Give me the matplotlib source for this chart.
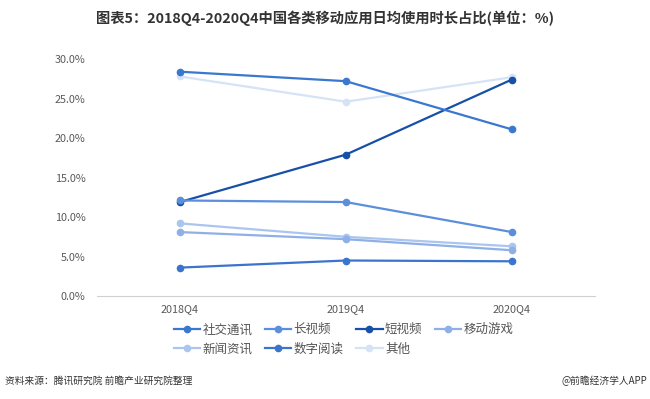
import matplotlib
matplotlib.use("Agg")
import matplotlib.pyplot as plt
from matplotlib.ticker import FuncFormatter

plt.rcParams['font.family'] = ['Noto Sans CJK SC', 'DejaVu Sans']

quarters = ["2018Q4", "2019Q4", "2020Q4"]
social = [28.4, 27.2, 21.1]
long_video = [12.1, 11.9, 8.1]
short_video = [11.9, 17.9, 27.4]
mobile_game = [8.1, 7.2, 5.8]
news = [9.2, 7.5, 6.3]
reading = [3.6, 4.5, 4.4]
other = [27.8, 24.6, 27.7]

series = [
    ("社交通讯", social, "#3a78d0"),
    ("长视频", long_video, "#5b8fdc"),
    ("短视频", short_video, "#1650a8"),
    ("移动游戏", mobile_game, "#8fb0e6"),
    ("新闻资讯", news, "#aac6ef"),
    ("数字阅读", reading, "#3a74cc"),
    ("其他", other, "#d6e3f6"),
]

fig = plt.figure(figsize=(6.5, 3.99), dpi=100)
ax = fig.add_axes([0.149, 0.258, 0.766, 0.594])

handles = {}
x = list(range(len(quarters)))
for name, vals, col in series[::-1]:
    h, = ax.plot(x, vals, color=col, lw=1.6, marker='o', ms=4.5, label=name)
    handles[name] = h

ax.set_xlim(-0.5, 2.5)
ax.set_ylim(0, 30)
ax.set_yticks([0, 5, 10, 15, 20, 25, 30])
ax.yaxis.set_major_formatter(FuncFormatter(lambda v, p: f"{v:.1f}%"))
ax.set_xticks(x)
ax.set_xticklabels(quarters)
for s in ['top', 'right', 'left']:
    ax.spines[s].set_visible(False)
ax.spines['bottom'].set_color('#d0d0d0')
ax.tick_params(axis='both', length=0, labelsize=7.8, colors='#595959')
ax.tick_params(axis='y', pad=8)
ax.tick_params(axis='x', pad=6)

order = ["社交通讯", "新闻资讯", "长视频", "数字阅读", "短视频", "其他", "移动游戏"]
fig.legend([handles[n] for n in order], order, ncol=4, loc='upper left',
           bbox_to_anchor=(0.25, 0.218), frameon=False, fontsize=9,
           handlelength=2.1, handletextpad=0.2, columnspacing=1.0,
           labelspacing=0.5, labelcolor='#555555')

fig.text(0.5, 0.955, "图表5：2018Q4-2020Q4中国各类移动应用日均使用时长占比(单位：%)",
         ha='center', va='center', fontsize=10.3, fontweight='bold', color='#333333')
fig.text(0.008, 0.045, "资料来源：腾讯研究院 前瞻产业研究院整理", ha='left', va='center',
         fontsize=7, color='#333333')
fig.text(0.995, 0.045, "@前瞻经济学人APP", ha='right', va='center',
         fontsize=7, color='#333333')

fig.savefig("out.png", dpi=100, facecolor='white')
